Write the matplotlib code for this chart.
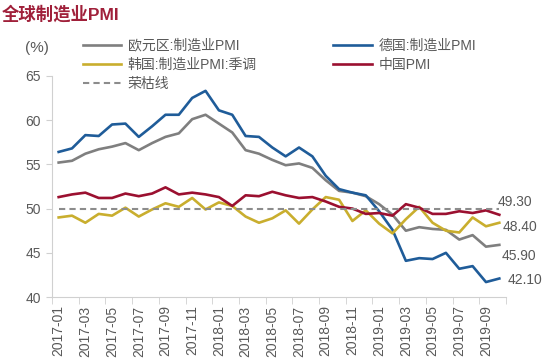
import matplotlib
matplotlib.use("Agg")
import matplotlib.pyplot as plt
from matplotlib.ticker import FixedLocator

plt.rcParams['font.family'] = ['Liberation Sans', 'Noto Sans CJK SC', 'DejaVu Sans']

months = [f"{y}-{m:02d}" for y in (2017, 2018, 2019) for m in range(1, 13)][:34]

eurozone = [55.2, 55.4, 56.2, 56.7, 57.0, 57.4, 56.6, 57.4, 58.1, 58.5, 60.1, 60.6,
            59.6, 58.6, 56.6, 56.2, 55.5, 54.9, 55.1, 54.6, 53.2, 52.0, 51.8, 51.4,
            50.5, 49.3, 47.5, 47.9, 47.7, 47.6, 46.5, 47.0, 45.7, 45.9]
germany = [56.4, 56.8, 58.3, 58.2, 59.5, 59.6, 58.1, 59.3, 60.6, 60.6, 62.5, 63.3,
           61.1, 60.6, 58.2, 58.1, 56.9, 55.9, 56.9, 55.9, 53.7, 52.2, 51.8, 51.5,
           49.7, 47.6, 44.1, 44.4, 44.3, 45.0, 43.2, 43.5, 41.7, 42.1]
korea = [49.0, 49.2, 48.4, 49.4, 49.2, 50.1, 49.1, 49.9, 50.6, 50.2, 51.2, 49.9,
         50.7, 50.3, 49.1, 48.4, 48.9, 49.8, 48.3, 49.9, 51.3, 51.0, 48.6, 49.8,
         48.3, 47.2, 48.8, 50.2, 48.4, 47.5, 47.3, 49.0, 48.0, 48.4]
china = [51.3, 51.6, 51.8, 51.2, 51.2, 51.7, 51.4, 51.7, 52.4, 51.6, 51.8, 51.6,
         51.3, 50.3, 51.5, 51.4, 51.9, 51.5, 51.2, 51.3, 50.8, 50.2, 50.0, 49.4,
         49.5, 49.2, 50.5, 50.1, 49.4, 49.4, 49.7, 49.5, 49.8, 49.3]
boom_bust = 50
yticks = [40, 45, 50, 55, 60, 65]

fig = plt.figure(figsize=(5.5, 3.61), dpi=100)
ax = fig.add_axes([0.0945, 0.177, 0.8255, 0.613])

x = list(range(len(months)))
txt = '#595959'
l_eu, = ax.plot(x, eurozone, color='#7f7f7f', lw=1.9, label='欧元区:制造业PMI')
l_de, = ax.plot(x, germany, color='#1f5c99', lw=1.9, label='德国:制造业PMI')
l_kr, = ax.plot(x, korea, color='#c9ae2e', lw=1.9, label='韩国:制造业PMI:季调')
l_cn, = ax.plot(x, china, color='#9b1030', lw=1.9, label='中国PMI')
l_bb, = ax.plot(x, [boom_bust] * len(x), color='#8c8c8c', lw=1.5, ls=(0, (3, 2)), label='荣枯线')

ax.set_xlim(-0.5, len(x) - 0.5)
ax.set_ylim(yticks[0], yticks[-1])
ax.set_yticks(yticks)
ax.set_xticks(x[::2])
ax.set_xticklabels(months[::2], rotation=90)
ax.xaxis.set_minor_locator(FixedLocator([i - 0.5 for i in range(0, len(x) + 1, 2)]))
ax.tick_params(axis='x', which='major', length=0, pad=6, labelsize=10, colors=txt)
ax.tick_params(axis='x', which='minor', length=5, color='#d0d0d0')
ax.tick_params(axis='y', length=4, color='#d0d0d0', labelsize=10, colors=txt, pad=4)
for s in ('top', 'right'):
    ax.spines[s].set_visible(False)
for s in ('left', 'bottom'):
    ax.spines[s].set_color('#d0d0d0')

last = len(x) - 1
ends = [(china[-1], (-2, 13)), (korea[-1], (3, -4)), (eurozone[-1], (2, -11)), (germany[-1], (8, -1))]
for v, off in ends:
    ax.annotate(f"{v:.2f}", xy=(last, v), xytext=off, textcoords='offset pixels',
                ha='left', va='center', fontsize=10, color=txt)

fig.text(0.004, 0.962, '全球制造业PMI', fontsize=12.5, fontweight='bold', color='#a0203a',
         ha='left', va='center')
fig.text(0.045, 0.868, '(%)', fontsize=11, color=txt, ha='left', va='center')

fig.legend(handles=[l_eu, l_kr, l_bb, l_de, l_cn], ncol=2, loc='upper left',
           bbox_to_anchor=(0.14, 0.908), frameon=False, fontsize=10, labelcolor=txt,
           handlelength=2.8, handletextpad=0.45, columnspacing=5.5, labelspacing=0.37,
           borderaxespad=0)

fig.savefig('out.png', dpi=100)
